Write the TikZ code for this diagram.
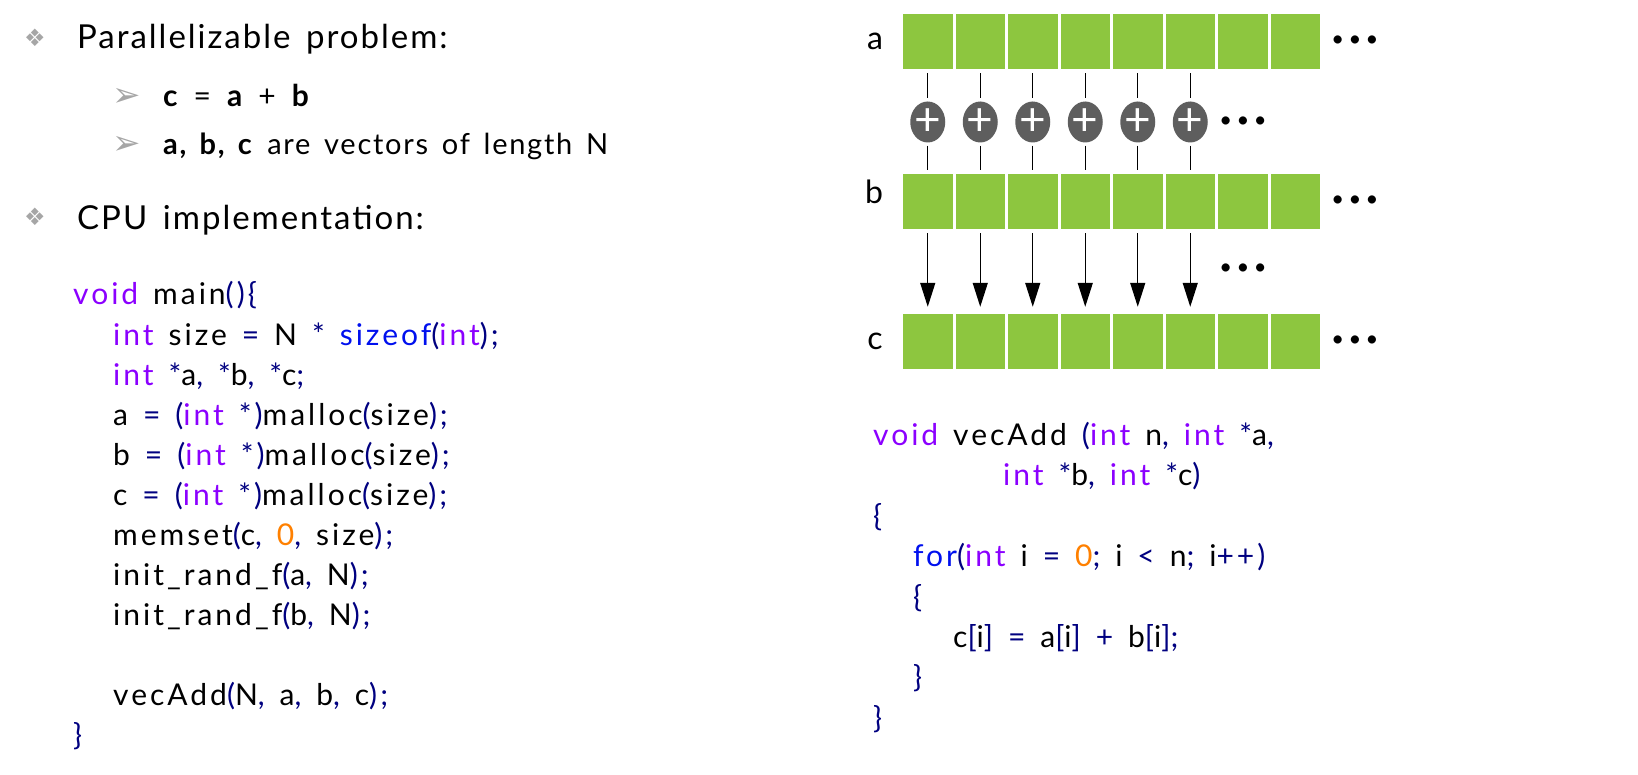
\documentclass[tikz,border=0pt]{standalone}
\usepackage{fontspec}
\setmainfont{Lato}
\newfontfamily\symfont{DejaVu Sans}
\newfontfamily\headfont[LetterSpace=6,WordSpace=1.5]{Lato}
\newfontfamily\codefont[LetterSpace=10,WordSpace=1.4]{Lato}
\newfontfamily\dotfont[LetterSpace=20]{Lato}
\usetikzlibrary{arrows.meta,shapes.geometric,positioning}
\definecolor{vgreen}{HTML}{8DC63F}
\definecolor{kwpurple}{HTML}{8B00FF}
\definecolor{kwblue}{HTML}{0010EE}
\definecolor{navy}{HTML}{000080}
\definecolor{numorange}{HTML}{FF8000}
\definecolor{bulletgray}{HTML}{A6A6A6}
\definecolor{plusgray}{HTML}{5E5E5E}
\newcommand{\cty}[1]{\textcolor{kwpurple}{#1}}
\newcommand{\ckw}[1]{\textcolor{kwblue}{#1}}
\newcommand{\cpn}[1]{\textcolor{navy}{#1}}
\newcommand{\cnum}[1]{\textcolor{numorange}{#1}}

\begin{document}
\begin{tikzpicture}[x=1pt,y=-1pt,
	txt/.style={anchor=base west,inner sep=0pt},
	code/.style={txt,font=\codefont\fontsize{30}{34}\selectfont},
	cell/.style={fill=vgreen,minimum width=49.5pt,minimum height=55pt,inner sep=0pt},
	plusc/.style={ellipse,fill=plusgray,text=white,minimum width=35pt,minimum height=41pt,inner sep=0pt,font=\fontsize{46}{46}\selectfont},
	moredots/.style={inner sep=0pt,font=\dotfont\fontsize{22}{22}\selectfont},
	veclabel/.style={anchor=base,inner sep=0pt,font=\fontsize{32}{32}\selectfont},
	bullet/.style={inner sep=0pt,text=bulletgray}]
	\useasboundingbox (0,0) rectangle (1638,775);

	\node[bullet,font=\symfont\fontsize{24}{24}\selectfont] (bul1) at (35,38) {❖};
	\node[bullet,font=\symfont\fontsize{24}{24}\selectfont] (bul2) at (35,217) {❖};
	\node[bullet,font=\symfont\fontsize{34}{34}\selectfont] (sub1) at (127,97) {➢};
	\node[bullet,font=\symfont\fontsize{34}{34}\selectfont] (sub2) at (127,145) {➢};
	\node[txt,font=\headfont\fontsize{33}{38}\selectfont] (head1) at (77,49) {Parallelizable problem:};
	\node[txt,font=\headfont\fontsize{33}{38}\selectfont] (head2) at (77,230) {CPU implementation:};
	\node[txt,font=\headfont\fontsize{30}{36}\selectfont] (eq) at (163,107) {\textbf{c} = \textbf{a} + \textbf{b}};
	\node[txt,font=\headfont\fontsize{29}{34}\selectfont] (vecs) at (163,155) {\textbf{a, b, c} are vectors of length N};

	\node[code] (l1) at (73,305) {\cty{void} main\cpn{()\{}};
	\node[code] (l2) at (113,345) {\cty{int} size \cpn{=} N \cpn{*} \ckw{sizeof}\cpn{(}\cty{int}\cpn{);}};
	\node[code] (l3) at (113,385) {\cty{int} \cpn{*}a\cpn{,} \cpn{*}b\cpn{,} \cpn{*}c\cpn{;}};
	\node[code] (l4) at (113,425) {a \cpn{=} \cpn{(}\cty{int} \cpn{*)}malloc\cpn{(}size\cpn{);}};
	\node[code] (l5) at (113,465) {b \cpn{=} \cpn{(}\cty{int} \cpn{*)}malloc\cpn{(}size\cpn{);}};
	\node[code] (l6) at (113,505) {c \cpn{=} \cpn{(}\cty{int} \cpn{*)}malloc\cpn{(}size\cpn{);}};
	\node[code] (l7) at (113,545) {memset\cpn{(}c\cpn{,} \cnum{0}\cpn{,} size\cpn{);}};
	\node[code] (l8) at (113,585) {init\_rand\_f\cpn{(}a\cpn{,} N\cpn{);}};
	\node[code] (l9) at (113,625) {init\_rand\_f\cpn{(}b\cpn{,} N\cpn{);}};
	\node[code] (l10) at (113,705) {vecAdd\cpn{(}N\cpn{,} a\cpn{,} b\cpn{,} c\cpn{);}};
	\node[code] (l11) at (73,745) {\cpn{\}}};

	\node[code] (r1) at (873,445) {\cty{void} vecAdd \cpn{(}\cty{int} n\cpn{,} \cty{int} \cpn{*}a\cpn{,}};
	\node[code] (r2) at (1003,485) {\cty{int} \cpn{*}b\cpn{,} \cty{int} \cpn{*}c\cpn{)}};
	\node[code] (r3) at (873,526) {\cpn{\{}};
	\node[code] (r4) at (913,566) {\ckw{for}\cpn{(}\cty{int} i \cpn{=} \cnum{0}\cpn{;} i \cpn{<} n\cpn{;} i\cpn{++)}};
	\node[code] (r5) at (913,607) {\cpn{\{}};
	\node[code] (r6) at (953,647) {c\cpn{[}i\cpn{]} \cpn{=} a\cpn{[}i\cpn{]} \cpn{+} b\cpn{[}i\cpn{]}\cpn{;}};
	\node[code] (r7) at (913,687) {\cpn{\}}};
	\node[code] (r8) at (873,728) {\cpn{\}}};

	\foreach \r/\y in {a/41.5,b/201.5,c/341.5}
	\foreach \i in {0,...,7}
		\node[cell] (\r\i) at (927.75+52.5*\i,\y) {};
	\node[veclabel] (la) at (875,50) {a};
	\node[veclabel] (lb) at (874,204) {b};
	\node[veclabel] (lc) at (875,350) {c};
	\node[moredots,right=11pt of a7] (adots) {•••};
	\node[moredots,right=11pt of b7] (bdots) {•••};
	\node[moredots,right=11pt of c7] (cdots) {•••};

	\foreach \i in {0,...,5}
	{
		\node[plusc] (p\i) at (927.75+52.5*\i,122) {\makebox[0pt]{\raisebox{-2pt}{+}}};
		\draw[line width=1.2pt,shorten <=4pt,shorten >=3pt] (a\i) -- (p\i);
		\draw[line width=1.2pt,shorten <=3pt,shorten >=4pt] (p\i) -- (b\i);
		\draw[line width=1.3pt,-{Triangle[length=24pt,width=15pt]},shorten <=4pt,shorten >=7pt] (b\i) -- (c\i);
	}
	\node[moredots] (pdots) at (1243,122) {•••};
	\node[moredots] (odots) at (1243,269) {•••};
\end{tikzpicture}
\end{document}
